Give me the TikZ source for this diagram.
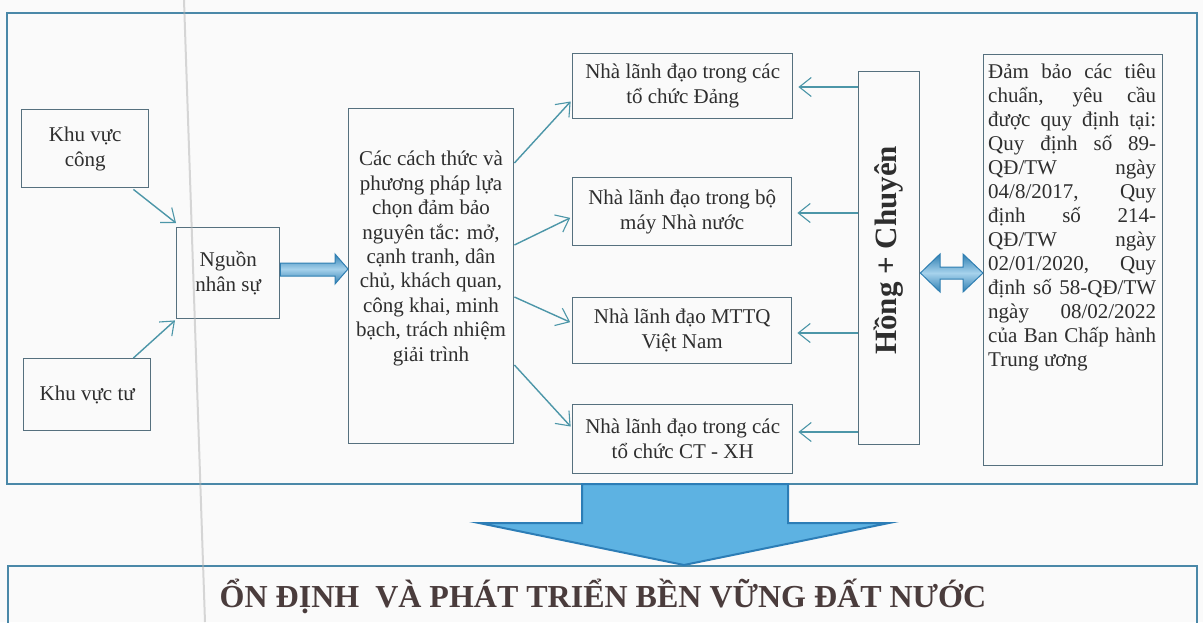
\documentclass[tikz,border=0pt]{standalone}
\usepackage{fontspec}
\setmainfont{Liberation Serif}
\usetikzlibrary{arrows.meta,calc}
\definecolor{framecol}{HTML}{4A88A8}
\definecolor{boxline}{HTML}{56707E}
\definecolor{conncol}{HTML}{4C96A8}
\definecolor{txt}{HTML}{2E2E2E}
\definecolor{bigfill}{HTML}{5DB2E2}
\definecolor{bigedge}{HTML}{2C7DB6}
\definecolor{arrdark}{HTML}{2F7FB2}
\definecolor{arrlight}{HTML}{A6D2EC}
\definecolor{titlecol}{HTML}{4A3C3C}
\definecolor{bgcol}{HTML}{FAFAFA}
\begin{document}
\begin{tikzpicture}[x=1pt,y=-1pt,
  box/.style={draw=boxline, line width=1.4pt, inner sep=0pt, anchor=north west,
    text=txt, align=center, font=\fontsize{21}{25}\selectfont},
  plain/.style={inner sep=0pt, text=txt, font=\fontsize{21}{24.4}\selectfont},
  conn/.style={draw=conncol, line width=1.4pt,
    -{Straight Barb[length=12pt,width=19pt,line width=1.1pt]}},
  framebox/.style={draw=framecol, line width=1.8pt},
  blockarrow/.style={draw=arrdark, line width=1pt, top color=arrdark,
    bottom color=arrdark, middle color=arrlight},
  bigarrow/.style={fill=bigfill, draw=bigedge, line width=2pt, line join=miter}
]
\useasboundingbox (0,0) rectangle (1203,622);
\fill[bgcol] (0,0) rectangle (1203,622);

% outer frames
\draw[framebox] (7,13) rectangle (1197,484);
\draw[framebox] (8,566) rectangle (1197,640);

% left boxes
\node[box, minimum width=127, minimum height=78] (KC) at (21,109) {Khu vực\\công};
\node[box, minimum width=103, minimum height=91] (N) at (176,227) {Nguồn\\nhân sự};
\node[box, minimum width=127, minimum height=72] (KT) at (23,358) {Khu vực tư};

% middle box
\node[box, minimum width=165, minimum height=335] (M) at (348,108) {};
\node[plain, anchor=north, align=center] (Mt) at (431,151)
 {Các cách thức và\\phương pháp lựa\\chọn đảm bảo\\nguyên tắc: mở,\\cạnh tranh, dân\\chủ, khách quan,\\công khai, minh\\bạch, trách nhiệm\\giải trình};

% leader boxes
\node[box, minimum width=220, minimum height=65] (L1) at (572,53) {Nhà lãnh đạo trong các\\tổ chức Đảng};
\node[box, minimum width=219, minimum height=68] (L2) at (572,177) {Nhà lãnh đạo trong bộ\\máy Nhà nước};
\node[box, minimum width=219, minimum height=66] (L3) at (572,297) {Nhà lãnh đạo MTTQ\\Việt Nam};
\node[box, minimum width=220, minimum height=69] (L4) at (572,404) {Nhà lãnh đạo trong các\\tổ chức CT - XH};

% Hong + Chuyen box
\node[box, minimum width=61, minimum height=373] (H) at (858,71) {};
\node[rotate=90, inner sep=0pt, text=txt, font=\bfseries\fontsize{31}{33}\selectfont] (Ht) at ($(H.center)+(-1,-8)$) {Hồng + Chuyên};

% right text box
\node[box, minimum width=179, minimum height=411] (R) at (983,54) {};
\node[plain, anchor=north west, text width=168pt, align=justify,
  font=\fontsize{21}{24}\selectfont] (Rt) at (988,64)
 {Đảm bảo các tiêu\linebreak chuẩn, yêu cầu\linebreak được quy định tại:\linebreak Quy định số 89-\linebreak QĐ/TW ngày\linebreak 04/8/2017, Quy\linebreak định số 214-\linebreak QĐ/TW ngày\linebreak 02/01/2020, Quy\linebreak định số 58-QĐ/TW\linebreak ngày 08/02/2022\linebreak của Ban Chấp hành\linebreak Trung ương};

% connectors
\draw[conn] ($(KC.south east)+(-16,1)$) -- ($(N.north west)+(0,-4)$);
\draw[conn] ($(KT.north east)+(-18,0)$) -- ($(N.south west)+(-1,1)$);
\draw[conn, shorten >=2pt] (M.east |- 0,163) -- (L1.west |- 0,100);
\draw[conn, shorten >=2pt] (M.east |- 0,245) -- (L2.west |- 0,217);
\draw[conn, shorten >=2pt] (M.east |- 0,297) -- (L3.west |- 0,323);
\draw[conn, shorten >=2pt] (M.east |- 0,365) -- (L4.west |- 0,428);
\draw[conn, shorten >=5pt] (H.west |- 0,87) -- (L1.east |- 0,87);
\draw[conn, shorten >=5pt] (H.west |- 0,213) -- (L2.east |- 0,213);
\draw[conn, shorten >=5pt] (H.west |- 0,333) -- (L3.east |- 0,333);
\draw[conn, shorten >=5pt] (H.west |- 0,432) -- (L4.east |- 0,432);

% block arrow Nguon -> middle
\path[blockarrow] (N.east |- 0,263) -- (335,263) -- (335,254) -- (M.west |- 0,269)
  -- (335,284) -- (335,276) -- (N.east |- 0,276) -- cycle;

% double arrow Hong <-> right box
\path[blockarrow] (H.east |- 0,273) -- (940,254) -- (940,267) -- (963,267) -- (963,254)
  -- (R.west |- 0,273) -- (963,292) -- (963,279) -- (940,279) -- (940,292) -- cycle;

% big down arrow
\coordinate (BA) at (684,484);
\coordinate (BB) at (684,565);
\path[bigarrow] ($(BA)+(-102,0)$) -- ($(BA)+(104,0)$) -- ($(BA)+(104,39)$) -- ($(BA)+(205,39)$)
  -- (BB) -- ($(BA)+(-205,39)$) -- ($(BA)+(-102,39)$) -- cycle;

% title
\node[anchor=base, inner sep=0pt, text=titlecol, font=\bfseries\fontsize{32}{32}\selectfont] (T) at (603,607)
 {ỔN ĐỊNH\ \ VÀ PHÁT TRIỂN BỀN VỮNG ĐẤT NƯỚC};

% scan fold line
\draw[black!30, opacity=0.5, line width=2pt] (184,0) -- (205,622);
\end{tikzpicture}
\end{document}
